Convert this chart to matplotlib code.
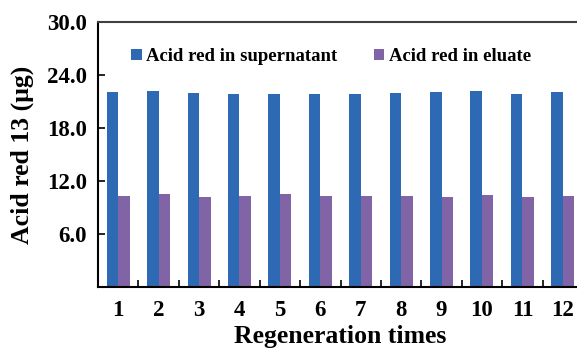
import matplotlib
matplotlib.use("Agg")
import matplotlib.pyplot as plt
import numpy as np

categories = ["1", "2", "3", "4", "5", "6", "7", "8", "9", "10", "11", "12"]
supernatant = [22.1, 22.2, 22.0, 21.9, 21.85, 21.85, 21.9, 22.0, 22.1, 22.2, 21.9, 22.05]
eluate = [10.3, 10.5, 10.2, 10.3, 10.5, 10.3, 10.3, 10.3, 10.15, 10.4, 10.15, 10.3]
yticks = [6.0, 12.0, 18.0, 24.0, 30.0]

plt.rcParams['font.family'] = ['Liberation Serif', 'DejaVu Serif']
plt.rcParams['font.weight'] = 'bold'

fig = plt.figure(figsize=(5.77, 3.51), dpi=100)
ax = fig.add_axes([98/577, 1-287/351, (583-98)/577, (287-22)/351])

x = np.arange(len(categories))
w = 0.285
ax.bar(x - w/2, supernatant, w, color='#2E69B3', label='Acid red in supernatant')
ax.bar(x + w/2, eluate, w, color='#8064A6', label='Acid red in eluate')

ax.set_xlim(-0.5, len(categories) - 0.5)
ax.set_ylim(0, 30)
ax.set_yticks(yticks)
ax.set_yticklabels([f"{v:.1f}" for v in yticks], fontsize=16.5, fontweight='bold')
ax.set_xticks(x)
ax.set_xticklabels(categories, fontsize=16.5, fontweight='bold')
ax.tick_params(axis='x', which='major', length=0, pad=9)
ax.set_xticks(x[:-1] + 0.5, minor=True)
ax.tick_params(axis='x', which='minor', direction='in', length=5, width=1.2)
ax.tick_params(axis='y', direction='in', length=5, width=1.2, pad=8)

for s in ['left', 'bottom']:
    ax.spines[s].set_linewidth(1.5)
ax.spines['top'].set_linewidth(1.5)
ax.spines['top'].set_color('#404040')
ax.spines['right'].set_visible(False)

ax.set_ylabel('Acid red 13 (μg)', fontsize=18.5, fontweight='bold', labelpad=9)
ax.set_xlabel('Regeneration times', fontsize=18.5, fontweight='bold', labelpad=3)

ax.legend(loc='upper left', bbox_to_anchor=(0.034, 0.965), ncol=2, frameon=False,
          prop={'family': 'Liberation Serif', 'weight': 'bold', 'size': 13.5},
          handlelength=0.55, handleheight=0.55, handletextpad=0.25, columnspacing=1.93)

fig.savefig('out.png', dpi=100)
